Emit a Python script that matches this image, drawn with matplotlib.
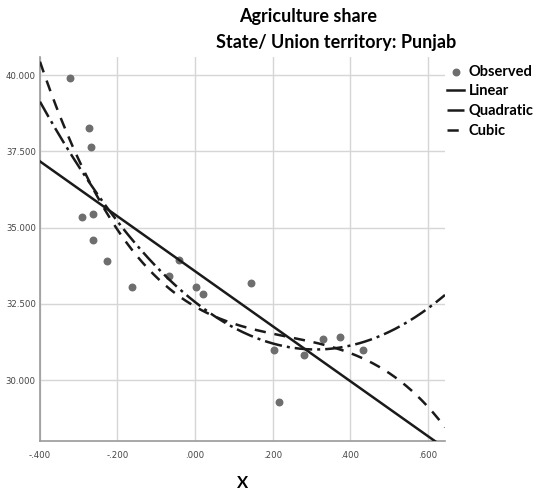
import numpy as np
import matplotlib.pyplot as plt

# observed agriculture share vs. X, Punjab
obs_x = [-0.322, -0.273, -0.268, -0.292, -0.264, -0.263, -0.228, -0.163,
         -0.067, -0.041, 0.003, 0.021, 0.145, 0.203, 0.218, 0.281, 0.330,
         0.375, 0.433]
obs_y = [39.90, 38.26, 37.65, 35.35, 35.46, 34.60, 33.90, 33.05, 33.40,
         33.95, 33.05, 32.83, 33.18, 30.99, 29.28, 30.81, 31.35, 31.41,
         30.99]

x_ticks = [-0.4, -0.2, 0.0, 0.2, 0.4, 0.6]
x_ticklabels = ['-.400', '-.200', '.000', '.200', '.400', '.600']
y_ticks = [30.0, 32.5, 35.0, 37.5, 40.0]
y_ticklabels = ['30.000', '32.500', '35.000', '37.500', '40.000']

fits = [('Linear', 1, '-'), ('Quadratic', 2, (0, (7, 2, 1.2, 2))),
        ('Cubic', 3, (0, (4.5, 3.5)))]

fig = plt.figure(figsize=(5.36, 4.94), dpi=100)
ax = fig.add_axes([0.0746, 0.107, 0.7556, 0.778])

ax.scatter(obs_x, obs_y, s=22, color='#6e6e6e', zorder=3, label='Observed')

xx = np.linspace(-0.4, 0.645, 300)
for name, deg, ls in fits:
    coef = np.polyfit(obs_x, obs_y, deg)
    ax.plot(xx, np.polyval(coef, xx), color='#1a1a1a', lw=1.8, ls=ls,
            label=name, zorder=4)

ax.set_xlim(-0.4, 0.645)
ax.set_ylim(28.0, 40.6)
ax.set_xticks(x_ticks)
ax.set_xticklabels(x_ticklabels)
ax.set_yticks(y_ticks)
ax.set_yticklabels(y_ticklabels)
ax.tick_params(length=0, labelsize=6.8, labelcolor='#444444', pad=3)
ax.tick_params(axis='x', pad=7)
for lab in ax.get_xticklabels() + ax.get_yticklabels():
    lab.set_family('DejaVu Sans')
    lab.set_fontstretch('condensed')
ax.grid(True, color='#d6d6d6', lw=1)
ax.set_axisbelow(True)
for side in ['top', 'right']:
    ax.spines[side].set_visible(False)
for side in ['left', 'bottom']:
    ax.spines[side].set_color('#9a9a9a')
    ax.spines[side].set_linewidth(1.2)

ax.set_xlabel('X', fontsize=12, fontweight='bold', family='Lato', labelpad=11)

fig.text(0.575, 0.9656, 'Agriculture share', ha='center', va='center',
         fontsize=13, fontweight='bold', family='Lato')
fig.text(0.627, 0.913, 'State/ Union territory: Punjab', ha='center',
         va='center', fontsize=13, fontweight='bold', family='Lato')

leg = ax.legend(loc='upper left', bbox_to_anchor=(0.99, 0.995), frameon=False,
                handlelength=1.2, handletextpad=0.3, labelspacing=0.4,
                borderaxespad=0, prop={'family': 'Lato', 'weight': 'bold',
                                       'size': 10.5})

fig.savefig('out.png', dpi=100)
